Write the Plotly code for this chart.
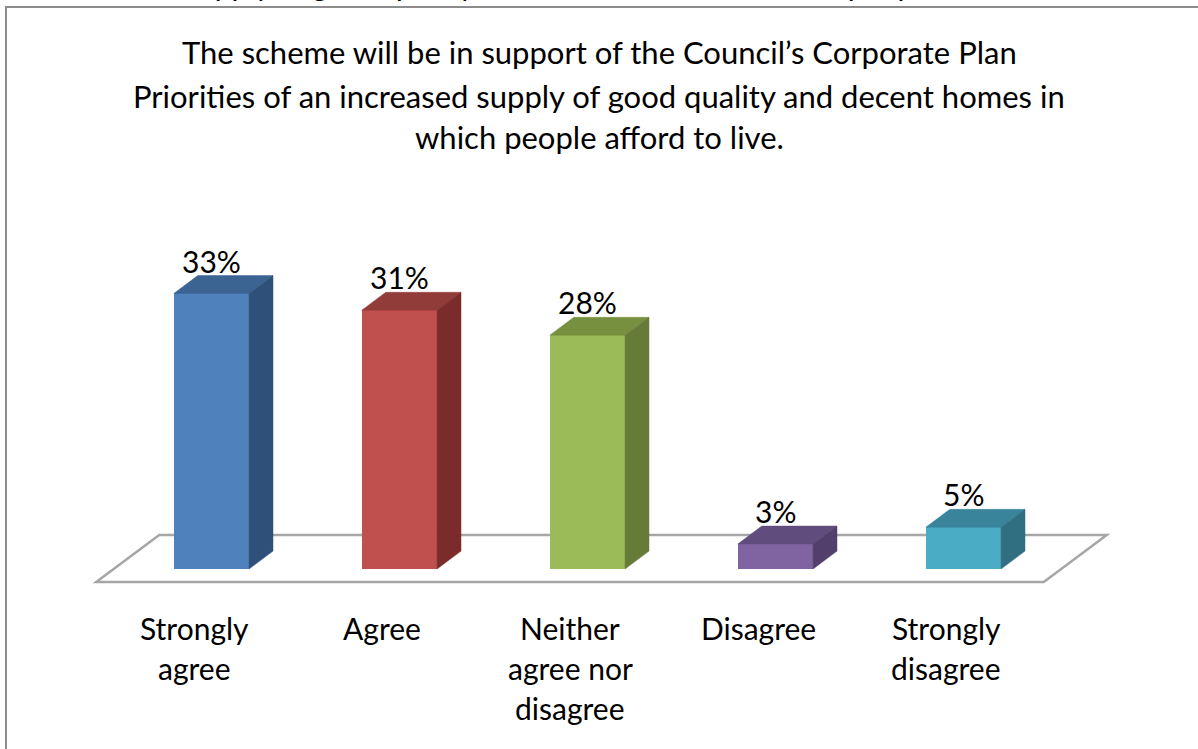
import plotly.graph_objects as go

# Survey responses
categories = ["Strongly<br>agree", "Agree", "Neither<br>agree nor<br>disagree", "Disagree", "Strongly<br>disagree"]
values = [33, 31, 28, 3, 5]
labels = ["33%", "31%", "28%", "3%", "5%"]

front_colors = ["#4F81BD", "#C0504D", "#9BBB59", "#8064A2", "#4BACC6"]
top_colors = ["#3C6493", "#923C3A", "#77903F", "#614C7E", "#39849A"]
side_colors = ["#2E5079", "#7B2C2A", "#657B37", "#523F6B", "#2F6F81"]

title_lines = ["The scheme will be in support of the Council\u2019s Corporate Plan",
               "Priorities of an increased supply of good quality and decent homes in",
               "which people afford to live."]
header_text = "supply of good quality and decent homes in which people"

W, H = 1198, 749
FONT = "Lato"

# oblique projection of the depth axis (floor depth in data units)
DX = 63 / 188.0     # category units per full floor depth
DY = 47 / 8.35      # percent units per full floor depth
F_FRONT = 0.277     # depth of bar front face
F_DEPTH = 0.38      # bar depth as share of floor depth
BAR_W = 0.4

# axis ranges: category 0 at the floor front edge, 188 px per category, 8.35 px per percent
X0_PX, PX_PER_CAT = 194.0, 188.0
Y0_PX, PX_PER_PCT = 582.0, 8.35
x_range = [-X0_PX / PX_PER_CAT, (W - X0_PX) / PX_PER_CAT]
y_range = [-(H - Y0_PX) / PX_PER_PCT, Y0_PX / PX_PER_PCT]


def px_x(p):
    return p / W


def px_y(p):
    return 1 - p / H


fig = go.Figure()

base = F_FRONT * DY
ddx = F_DEPTH * DX
ddy = F_DEPTH * DY

# front faces
fig.add_trace(go.Bar(
    x=[i + F_FRONT * DX for i in range(len(values))],
    y=values, base=[base] * len(values), width=BAR_W,
    marker=dict(color=front_colors, line=dict(width=0)),
    hoverinfo="skip", showlegend=False))

for i, v in enumerate(values):
    cx = i + F_FRONT * DX
    xl, xr = cx - BAR_W / 2, cx + BAR_W / 2
    yt = base + v
    # top face
    fig.add_trace(go.Scatter(
        x=[xl, xr, xr + ddx, xl + ddx, xl],
        y=[yt, yt, yt + ddy, yt + ddy, yt],
        mode="lines", fill="toself", fillcolor=top_colors[i],
        line=dict(color=top_colors[i], width=0.5),
        hoverinfo="skip", showlegend=False))
    # side face
    fig.add_trace(go.Scatter(
        x=[xr, xr + ddx, xr + ddx, xr, xr],
        y=[base, base + ddy, yt + ddy, yt, base],
        mode="lines", fill="toself", fillcolor=side_colors[i],
        line=dict(color=side_colors[i], width=0.5),
        hoverinfo="skip", showlegend=False))

annotations = []
for i, v in enumerate(values):
    annotations.append(dict(
        x=i + F_FRONT * DX, y=base + v + ddy, xref="x", yref="y",
        text=labels[i], showarrow=False, yanchor="bottom", yshift=-5,
        font=dict(family=FONT, size=30, color="black")))
    # category label, one annotation per line
    for k, line in enumerate(categories[i].split("<br>")):
        annotations.append(dict(
            x=i, y=px_y(628 + 40 * k), xref="x", yref="paper",
            text=line, showarrow=False, yanchor="middle",
            font=dict(family=FONT, size=30, color="black")))

for k, (line, yc) in enumerate(zip(title_lines, [52, 96, 137])):
    annotations.append(dict(
        x=0.5, y=px_y(yc), xref="paper", yref="paper",
        text=line, showarrow=False, yanchor="middle",
        font=dict(family=FONT, size=31, color="black")))

# surrounding document text running off the top edge
annotations.append(dict(
    x=px_x(183), y=px_y(4), xref="paper", yref="paper",
    text=header_text, showarrow=False, xanchor="left", yanchor="bottom",
    font=dict(family=FONT, size=30, color="black")))

# floor of the 3-D chart, drawn beneath the bars
fx0, fx1 = -0.52, 4.52
floor_path = (f"M {fx0},0 L {fx1},0 L {fx1 + DX},{DY} L {fx0 + DX},{DY} Z")

fig.update_layout(
    width=W, height=H, autosize=False,
    margin=dict(l=0, r=0, t=0, b=0),
    paper_bgcolor="white", plot_bgcolor="white",
    xaxis=dict(range=x_range, visible=False, fixedrange=True),
    yaxis=dict(range=y_range, visible=False, fixedrange=True),
    annotations=annotations,
    shapes=[
        dict(type="path", xref="x", yref="y", path=floor_path,
             fillcolor="white", line=dict(color="#A6A6A6", width=2.5), layer="below"),
        dict(type="rect", xref="paper", yref="paper",
             x0=px_x(6), y0=px_y(800), x1=px_x(1300), y1=px_y(7),
             line=dict(color="#8C8C8C", width=2), layer="above"),
    ],
    bargap=0,
)

fig.write_html("out.html")
